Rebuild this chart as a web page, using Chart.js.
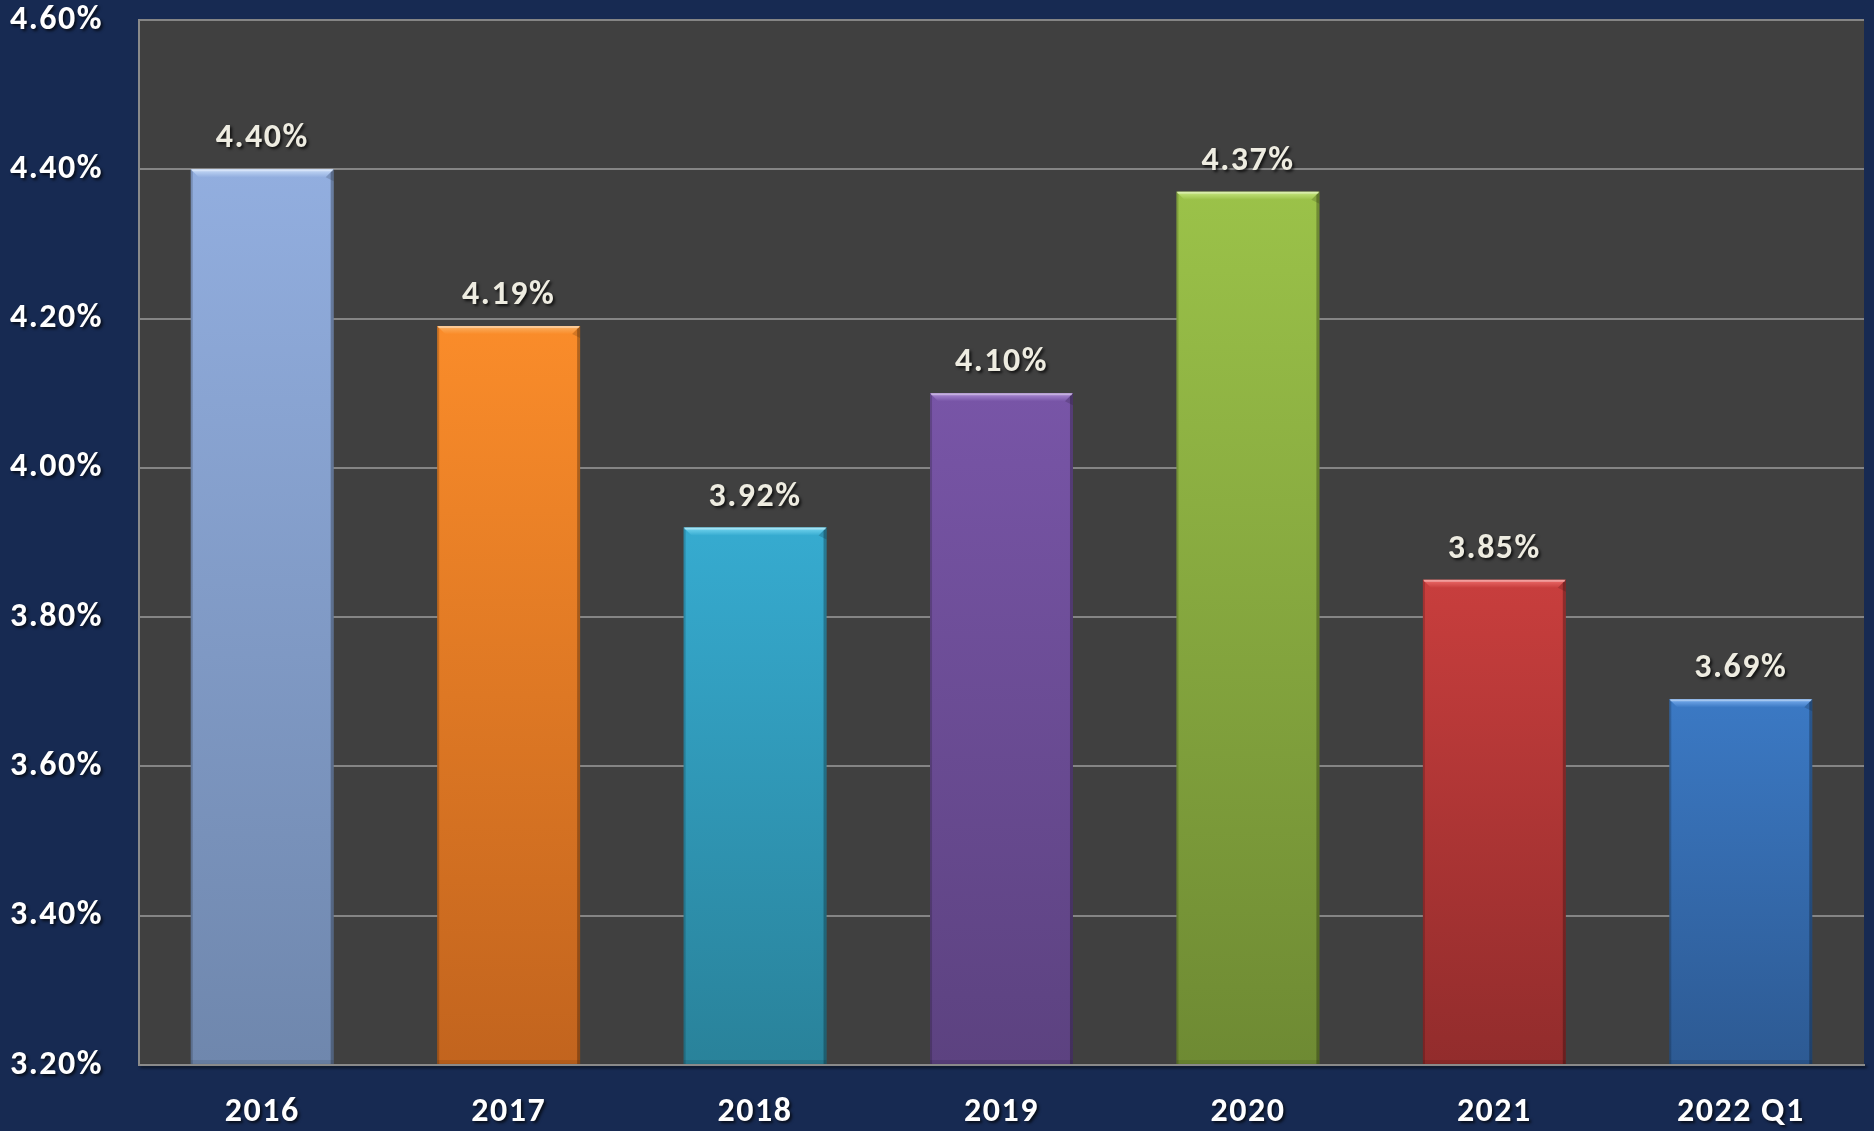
<!DOCTYPE html>
<html>
<head>
<meta charset="utf-8">
<script src="https://cdn.jsdelivr.net/npm/chart.js@4"></script>
<style>
  html, body { margin: 0; padding: 0; background: #172a52; }
  #wrap { width: 1874px; height: 1131px; }
</style>
</head>
<body>
<div id="wrap"><canvas id="c" width="1874" height="1131"></canvas></div>
<script>
const categories = ['2016', '2017', '2018', '2019', '2020', '2021', '2022 Q1'];
const rates = [4.40, 4.19, 3.92, 4.10, 4.37, 3.85, 3.69];
const yTicks = [3.2, 3.4, 3.6, 3.8, 4.0, 4.2, 4.4, 4.6];

const topColors = ['#92aedf', '#fa8c2a', '#36abd0', '#7855a7', '#9bc249', '#c83e3d', '#3b79c4'];
const bottomColors = ['#6f87ad', '#c2641e', '#29829a', '#5c4280', '#6e8a33', '#922c2c', '#2d5a93'];
const bevelColors = ['#c8dcf8', '#fbb264', '#78d8f2', '#ae8ed6', '#c9e985', '#ee6e6c', '#7cb0f0'];

const FONT = 'Calibri, Carlito, Lato, "DejaVu Sans", sans-serif';
const FSIZE = 34;

const bgPlugin = {
  id: 'plotBg',
  beforeDraw(chart) {
    const { ctx, chartArea: a } = chart;
    ctx.save();
    ctx.fillStyle = '#404040';
    ctx.fillRect(a.left, a.top, a.right - a.left, a.bottom - a.top);
    ctx.restore();
    ctx.letterSpacing = '1.5px';
  }
};

const bevelPlugin = {
  id: 'bevel',
  afterDatasetsDraw(chart) {
    const ctx = chart.ctx;
    const a = chart.chartArea;
    const meta = chart.getDatasetMeta(0);
    ctx.save();
    ctx.beginPath();
    ctx.rect(a.left, a.top, a.right - a.left, a.bottom - a.top);
    ctx.clip();
    meta.data.forEach((bar, i) => {
      const p = bar.getProps(['x', 'y', 'width', 'base'], true);
      const L = p.x - p.width / 2, R = p.x + p.width / 2, T = p.y;
      const B = Math.min(p.base, a.bottom);
      const d = 8;
      // side shading
      ctx.fillStyle = 'rgba(0,0,0,0.18)';
      ctx.fillRect(L, T, 2, B - T);
      ctx.fillStyle = 'rgba(0,0,0,0.28)';
      ctx.fillRect(R - 3, T, 3, B - T);
      // bottom subtle band
      ctx.fillStyle = 'rgba(0,0,0,0.08)';
      ctx.fillRect(L, B - 5, R - L, 5);
      // top bevel trapezoid
      const g = ctx.createLinearGradient(0, T, 0, T + d);
      g.addColorStop(0, bevelColors[i]);
      g.addColorStop(1, topColors[i]);
      ctx.fillStyle = g;
      ctx.beginPath();
      ctx.moveTo(L, T);
      ctx.lineTo(R, T);
      ctx.lineTo(R - d, T + d);
      ctx.lineTo(L + d, T + d);
      ctx.closePath();
      ctx.fill();
      // right corner triangle slightly darker
      ctx.fillStyle = 'rgba(0,0,0,0.15)';
      ctx.beginPath();
      ctx.moveTo(R, T);
      ctx.lineTo(R, T + d + 4);
      ctx.lineTo(R - d, T + d);
      ctx.closePath();
      ctx.fill();
      // top highlight line
      ctx.fillStyle = 'rgba(255,255,255,0.35)';
      ctx.fillRect(L + 1, T, R - L - 2, 2);
    });
    ctx.restore();
  }
};

const labelPlugin = {
  id: 'valueLabels',
  afterDatasetsDraw(chart) {
    const ctx = chart.ctx;
    const meta = chart.getDatasetMeta(0);
    ctx.save();
    ctx.font = 'bold ' + FSIZE + 'px ' + FONT;
    ctx.letterSpacing = '1.5px';
    ctx.fillStyle = '#eeece1';
    ctx.textAlign = 'center';
    ctx.textBaseline = 'alphabetic';
    ctx.shadowColor = 'rgba(0,0,0,0.75)';
    ctx.shadowOffsetX = 2;
    ctx.shadowOffsetY = 2;
    ctx.shadowBlur = 3;
    meta.data.forEach((bar, i) => {
      ctx.fillText(rates[i].toFixed(2) + '%', bar.x, bar.y - 22);
    });
    ctx.restore();
    // shadow for tick labels drawn in the later layer
    ctx.save();
    ctx.letterSpacing = '1.5px';
    ctx.shadowColor = 'rgba(0,0,0,0.7)';
    ctx.shadowOffsetX = 2;
    ctx.shadowOffsetY = 2;
    ctx.shadowBlur = 3;
  },
  afterDraw(chart) {
    chart.ctx.restore();
    chart.ctx.letterSpacing = '0px';
  }
};

function barGradient(context) {
  const chart = context.chart;
  const area = chart.chartArea;
  const i = context.dataIndex;
  if (!area || context.type !== 'data') return topColors[i];
  const top = chart.scales.y.getPixelForValue(rates[i]);
  const g = chart.ctx.createLinearGradient(0, top, 0, area.bottom);
  g.addColorStop(0, topColors[i]);
  g.addColorStop(1, bottomColors[i]);
  return g;
}

new Chart(document.getElementById('c'), {
  type: 'bar',
  data: {
    labels: categories,
    datasets: [{
      data: rates,
      backgroundColor: barGradient,
      borderWidth: 0,
      barPercentage: 0.58,
      categoryPercentage: 1.0
    }]
  },
  options: {
    responsive: false,
    animation: false,
    events: [],
    layout: { padding: { top: 20, right: 10, left: 0, bottom: 0 } },
    plugins: {
      legend: { display: false },
      tooltip: { enabled: false },
      title: { display: false }
    },
    scales: {
      x: {
        grid: { display: false, drawTicks: false },
        border: { display: true, color: '#8a8a8a', width: 2, z: 1 },
        ticks: {
          color: '#ffffff',
          font: { family: FONT, size: FSIZE, weight: 'bold' },
          padding: 27,
          maxRotation: 0,
          autoSkip: false,
          z: 1
        },
        afterFit(scale) { scale.height = 66; scale.paddingLeft = 0; scale.paddingRight = 0; }
      },
      y: {
        min: 3.2,
        max: 4.6,
        afterBuildTicks(scale) { scale.ticks = yTicks.map(v => ({ value: v })); },
        grid: { color: '#858585', lineWidth: 2, drawTicks: false },
        border: { display: true, color: '#8a8a8a', width: 2 },
        ticks: {
          color: '#ffffff',
          font: { family: FONT, size: FSIZE, weight: 'bold' },
          padding: 36,
          z: 1,
          callback: (v) => Number(v).toFixed(2) + '%'
        },
        afterFit(scale) { scale.width = 139; scale.paddingTop = 0; scale.paddingBottom = 0; }
      }
    }
  },
  plugins: [bgPlugin, bevelPlugin, labelPlugin]
});
</script>
</body>
</html>
